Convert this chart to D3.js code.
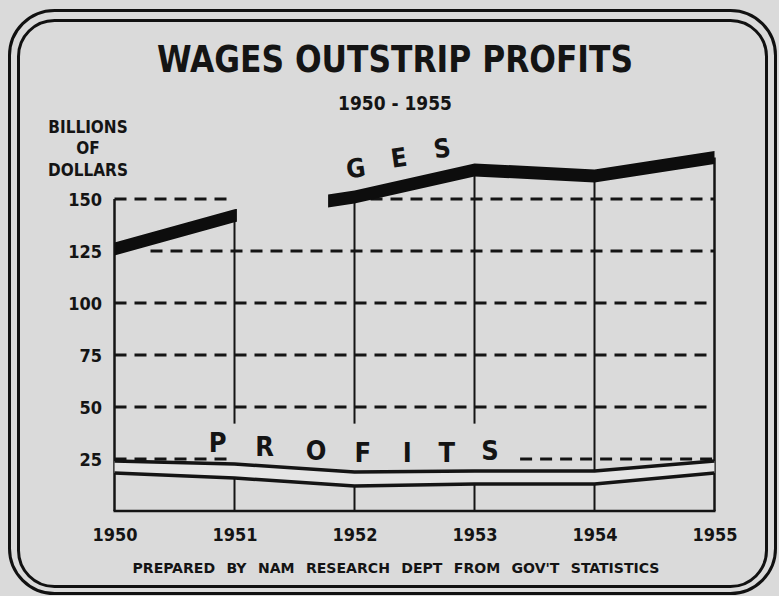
<!DOCTYPE html>
<html>
<head>
<meta charset="utf-8">
<script src="https://cdn.jsdelivr.net/npm/d3@7"></script>
<style>
  body { margin: 0; background: #dadada; }
  text { font-family: "DejaVu Sans Condensed", "DejaVu Sans", sans-serif; font-weight: bold; fill: #141414; }
</style>
</head>
<body>
<div id="G"></div>
<script>
// values (billions of dollars)
var years = [1950, 1951, 1952, 1953, 1954, 1955];
var wages = [126, 142, 151, 164, 161, 170];
var profitsHigh = [24, 22.6, 18.8, 19.2, 19.2, 24];
var profitsLow = [18.3, 15.9, 12, 13, 13, 18.3];
var yTicks = [25, 50, 75, 100, 125, 150];

// where the printed grid lines run (in years)
var dashRuns = [
  { v: 150, runs: [[1950, 1951], [1951.8, 1955]] },
  { v: 125, runs: [[1950.3, 1955]] },
  { v: 100, runs: [[1950, 1955]] },
  { v: 75, runs: [[1950, 1955]] },
  { v: 50, runs: [[1950, 1955]] },
  { v: 25, runs: [[1950, 1950.94], [1953.38, 1955]] }
];
var wagesLetters = [{ t: "G", x: 1952.02, v: 160.5 }, { t: "E", x: 1952.38, v: 165.5 }, { t: "S", x: 1952.74, v: 170 }];
var profitLetters = ["P", "R", "O", "F", "I", "T", "S"];
var profitLetterX = [1950.86, 1951.25, 1951.68, 1952.07, 1952.44, 1952.77, 1953.13];
var profitLetterV = [28.4, 26.4, 24.5, 23.6, 23.6, 23.6, 24.5];

var W = 779, H = 596;

var svg = d3.select("#G")
  .append("svg")
  .attr("width", W)
  .attr("height", H);

svg.append("rect").attr("width", W).attr("height", H).attr("fill", "#dadada");

// double rounded frame
svg.append("rect")
  .attr("x", 9.5).attr("y", 10.5).attr("width", 766).attr("height", 583)
  .attr("rx", 45).attr("fill", "none").attr("stroke", "#111").attr("stroke-width", 3);
svg.append("rect")
  .attr("x", 18.5).attr("y", 20.5).attr("width", 748).attr("height", 566)
  .attr("rx", 36).attr("fill", "none").attr("stroke", "#111").attr("stroke-width", 3);

var x = d3.scaleLinear().domain([1950, 1955]).range([114.5, 714.5]);
var y = d3.scaleLinear().domain([0, 150]).range([511, 199]);

// titles
svg.append("text")
  .attr("x", 395).attr("y", 72)
  .attr("text-anchor", "middle")
  .attr("font-family", "DejaVu Sans")
  .attr("font-size", 37)
  .attr("textLength", 476).attr("lengthAdjust", "spacingAndGlyphs")
  .text("WAGES OUTSTRIP PROFITS");

svg.append("text")
  .attr("x", 395).attr("y", 110)
  .attr("text-anchor", "middle")
  .attr("font-size", 20)
  .attr("textLength", 114).attr("lengthAdjust", "spacingAndGlyphs")
  .text("1950 - 1955");

var unit = svg.append("text").attr("text-anchor", "middle").attr("font-size", 17);
unit.append("tspan").attr("x", 88).attr("y", 133).text("BILLIONS");
unit.append("tspan").attr("x", 88).attr("y", 154).text("OF");
unit.append("tspan").attr("x", 88).attr("y", 176).text("DOLLARS");

svg.append("text")
  .attr("x", 396).attr("y", 573)
  .attr("text-anchor", "middle")
  .attr("font-size", 14.5)
  .attr("textLength", 527).attr("lengthAdjust", "spacingAndGlyphs")
  .attr("word-spacing", 6)
  .text("PREPARED BY NAM RESEARCH DEPT FROM GOV'T STATISTICS");

// dashed level lines
dashRuns.forEach(function (d) {
  d.runs.forEach(function (r) {
    svg.append("line")
      .attr("x1", x(r[0])).attr("x2", x(r[1]))
      .attr("y1", y(d.v)).attr("y2", y(d.v))
      .attr("stroke", "#141414")
      .attr("stroke-width", 3)
      .attr("stroke-dasharray", "12,8");
  });
});

// vertical year lines
var gapTop = 42;
years.forEach(function (yr, i) {
  var top = (i == 0) ? 150 : wages[i];
  var segs;
  if (i >= 1 && i <= 3) {
    segs = [[top, gapTop], [profitsHigh[i], 0]];
  } else {
    segs = [[top, 0]];
  }
  segs.forEach(function (s) {
    svg.append("line")
      .attr("x1", x(yr)).attr("x2", x(yr))
      .attr("y1", y(s[0])).attr("y2", y(s[1]))
      .attr("stroke", "#141414")
      .attr("stroke-width", (i == 0 || i == 5) ? 2.5 : 2);
  });
});

// baseline
svg.append("line")
  .attr("x1", x(1950) - 1).attr("x2", x(1955) + 1)
  .attr("y1", y(0)).attr("y2", y(0))
  .attr("stroke", "#141414").attr("stroke-width", 2.5);

// profits band
var pts = years.map(function (yr, i) { return { yr: yr, hi: profitsHigh[i], lo: profitsLow[i], w: wages[i] }; });

svg.append("path")
  .datum(pts)
  .attr("fill", "#e4e4e4")
  .attr("d", d3.area()
    .x(function (d) { return x(d.yr) })
    .y0(function (d) { return y(d.lo) })
    .y1(function (d) { return y(d.hi) }));

["hi", "lo"].forEach(function (k) {
  svg.append("path")
    .datum(pts)
    .attr("fill", "none")
    .attr("stroke", "#141414")
    .attr("stroke-width", 3.5)
    .attr("d", d3.line()
      .x(function (d) { return x(d.yr) })
      .y(function (d) { return y(d[k]) }));
});

// wages band, broken where the label was printed
var clip = svg.append("clipPath").attr("id", "wclip");
clip.append("rect").attr("x", x(1950) - 2).attr("y", 0).attr("width", x(1951.02) - x(1950) + 2).attr("height", H);
clip.append("rect").attr("x", x(1951.78)).attr("y", 0).attr("width", x(1955) - x(1951.78) + 2).attr("height", H);

svg.append("path")
  .datum(pts)
  .attr("clip-path", "url(#wclip)")
  .attr("fill", "#0d0d0d")
  .attr("d", d3.area()
    .x(function (d) { return x(d.yr) })
    .y0(function (d) { return y(d.w) + 6.5 })
    .y1(function (d) { return y(d.w) - 6.5 }));

// letters
wagesLetters.forEach(function (d) {
  svg.append("text")
    .attr("transform", "translate(" + x(d.x) + "," + y(d.v) + ") rotate(-8)")
    .attr("text-anchor", "middle")
    .attr("font-size", 26)
    .text(d.t);
});

profitLetters.forEach(function (t, i) {
  svg.append("text")
    .attr("x", x(profitLetterX[i]))
    .attr("y", y(profitLetterV[i]))
    .attr("text-anchor", "middle")
    .attr("font-size", 27)
    .text(t);
});

// axes
var yAxis = svg.append("g")
  .attr("transform", "translate(" + 102 + ",0)")
  .call(d3.axisLeft(y).tickValues(yTicks).tickSize(0).tickPadding(0));
yAxis.select(".domain").remove();
yAxis.selectAll("text")
  .attr("font-size", 18)
  .attr("font-family", null)
  .attr("dy", "0.36em");

var xAxis = svg.append("g")
  .attr("transform", "translate(0," + 527 + ")")
  .call(d3.axisBottom(x).tickValues(years).tickFormat(d3.format("d")).tickSize(0).tickPadding(0));
xAxis.select(".domain").remove();
xAxis.selectAll("text")
  .attr("font-size", 18)
  .attr("font-family", null)
  .attr("dy", "0.75em");
</script>
</body>
</html>
